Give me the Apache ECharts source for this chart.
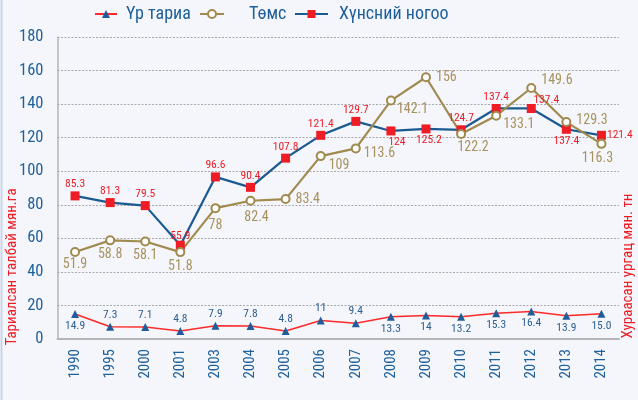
<!DOCTYPE html>
<html><head><meta charset="utf-8">
<script src="https://cdn.jsdelivr.net/npm/echarts@6/dist/echarts.min.js"></script>
<style>html,body{margin:0;padding:0;background:#f4f6fb}#c{width:638px;height:400px}</style>
</head><body><div id="c"></div>
<script>
const years = ['1990','1995','2000','2001','2003','2004','2005','2006','2007','2008','2009','2010','2011','2012','2013','2014'];
const grain = [14.9,7.3,7.1,4.8,7.9,7.8,4.8,11,9.4,13.3,14,13.2,15.3,16.4,13.9,15.0];
const grainLabels = ['14.9','7.3','7.1','4.8','7.9','7.8','4.8','11','9.4','13.3','14','13.2','15.3','16.4','13.9','15.0'];
const potato = [51.9,58.8,58.1,51.8,78,82.4,83.4,109,113.6,142.1,156,122.2,133.1,149.6,129.3,116.3];
const potatoLabels = ['51.9','58.8','58.1','51.8','78','82.4','83.4','109','113.6','142.1','156','122.2','133.1','149.6','129.3','116.3'];
const veg = [85.3,81.3,79.5,55.9,96.6,90.4,107.8,121.4,129.7,124,125.2,124.7,137.4,137.4,125.0,121.4];
const vegLabels = ['85.3','81.3','79.5','55.9','96.6','90.4','107.8','121.4','129.7','124','125.2','124.7','137.4','137.4','137.4','121.4'];
const seriesNames = ['Үр тариа','Төмс','Хүнсний ногоо'];
const leftAxisName = 'Тариалсан талбай мян.га';
const rightAxisName = 'Хураасан ургац мян. тн';

// label placement (layout only)
const grainPos = ['bottom','top','top','top','top','top','top','top','top','bottom','bottom','bottom','bottom','bottom','bottom','bottom'];
const potatoPos = [['bottom',[0,-4]],['bottom',[0,-3]],['bottom',[0,-3]],['bottom',[0,-3]],['bottom',[0,0]],['bottom',[6,0]],['right',[0,0]],['right',[-2,9]],['right',[-2,5]],['right',[-4,9]],['right',[0,0]],['bottom',[12,-3]],['right',[-3,9]],['right',[0,-8]],['right',[0,-2]],['bottom',[-4,-2]]];
const vegPos = [['top',[0,0]],['top',[0,0]],['top',[0,0]],['top',[0,2]],['top',[0,0]],['top',[0,0]],['top',[0,0]],['top',[0,0]],['top',[0,0]],['bottom',[6,0]],['bottom',[3,0]],['top',[0,0]],['top',[0,0]],['top',[15,3]],['bottom',[0,0]],['right',[0,0]]];

const FONT = '"Roboto Condensed","Liberation Sans",sans-serif';
const BLUE = '#1f5f9a';

const chart = echarts.init(document.getElementById('c'));
chart.setOption({
  backgroundColor: '#f4f6fb',
  animation: false,
  textStyle: {fontFamily: FONT},
  grid: {left: 57.5, top: 37, right: 19, bottom: 61, containLabel: false},
  legend: [
    {data: [seriesNames[0]], left: 94, top: 5, padding: 0, itemWidth: 22, itemHeight: 10, textStyle: {fontFamily: FONT, fontSize: 18, color: BLUE, padding: [0,0,0,4]}},
    {data: [seriesNames[1]], left: 199, top: 5, padding: 0, itemWidth: 24, itemHeight: 10, textStyle: {fontFamily: FONT, fontSize: 18, color: BLUE, padding: [0,0,0,20]}},
    {data: [seriesNames[2]], left: 294, top: 5, padding: 0, itemWidth: 33, itemHeight: 10, textStyle: {fontFamily: FONT, fontSize: 18, color: BLUE, padding: [0,0,0,6]}}
  ],
  xAxis: {
    type: 'category', data: years, boundaryGap: true,
    axisLine: {lineStyle: {color: '#b4b4b4', width: 2}},
    axisTick: {show: false},
    axisLabel: {rotate: 90, color: BLUE, fontSize: 15, fontFamily: FONT, margin: 10}
  },
  yAxis: {
    type: 'value', min: 0, max: 180, interval: 20,
    axisLine: {show: true, lineStyle: {color: '#b4b4b4', width: 1.5}},
    axisTick: {show: false},
    axisLabel: {color: BLUE, fontSize: 16.5, fontFamily: FONT, margin: 14},
    splitLine: {lineStyle: {color: '#a8a8a8', type: [2,1.5], width: 1}}
  },
  graphic: [
    {type: 'line', shape: {x1: 1.5, y1: 0, x2: 1.5, y2: 400}, style: {stroke: '#c9d6ea', lineWidth: 2}},
    {type: 'text', x: 12, y: 267, rotation: Math.PI/2, style: {text: leftAxisName, fill: '#ee1c25', font: '15px ' + FONT, align: 'center', verticalAlign: 'middle'}},
    {type: 'text', x: 628, y: 266, rotation: Math.PI/2, style: {text: rightAxisName, fill: '#ee1c25', font: '15px ' + FONT, align: 'center', verticalAlign: 'middle'}}
  ],
  series: [
    {
      name: seriesNames[0], type: 'line', symbol: 'triangle', symbolSize: 8,
      lineStyle: {color: '#ff2a2a', width: 1.5},
      itemStyle: {color: '#1f5c99'},
      label: {show: true, fontSize: 11.5, color: '#2c5e8f', fontFamily: FONT, distance: 2},
      data: grain.map((v, i) => ({value: v, label: {position: grainPos[i], formatter: grainLabels[i]}}))
    },
    {
      name: seriesNames[2], type: 'line', symbol: 'rect', symbolSize: 9,
      lineStyle: {color: '#1a5a90', width: 2.2},
      itemStyle: {color: '#ee1c25'},
      label: {show: true, fontSize: 11.5, color: '#ee1c25', fontFamily: FONT, distance: 1},
      data: veg.map((v, i) => ({value: v, label: {position: vegPos[i][0], offset: vegPos[i][1], formatter: vegLabels[i]}}))
    },
    {
      name: seriesNames[1], type: 'line', symbol: 'circle', symbolSize: 8,
      lineStyle: {color: '#a08a4e', width: 2.2},
      itemStyle: {color: '#ffffff', borderColor: '#a08a4e', borderWidth: 2},
      label: {show: true, fontSize: 14, color: '#a8925f', fontFamily: FONT, distance: 5},
      data: potato.map((v, i) => ({value: v, label: {position: potatoPos[i][0], offset: potatoPos[i][1], formatter: potatoLabels[i]}}))
    }
  ]
});
</script></body></html>
